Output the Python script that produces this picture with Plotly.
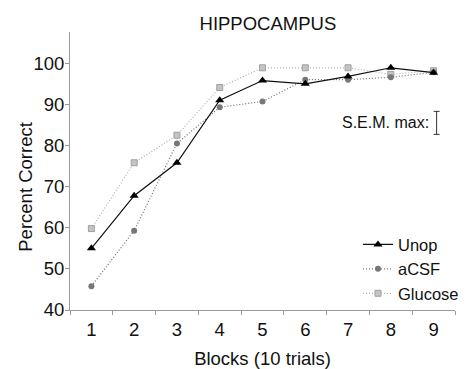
import plotly.graph_objects as go

blocks = [1, 2, 3, 4, 5, 6, 7, 8, 9]
unop = [55, 67.8, 75.8, 91, 95.8, 95, 96.8, 98.9, 97.7]
acsf = [45.8, 59.3, 80.5, 89.3, 90.7, 96, 96, 96.6, 97.8]
glucose = [59.8, 75.8, 82.5, 94.1, 98.9, 98.9, 98.9, 97.3, 98.2]
y_ticks = [40, 50, 60, 70, 80, 90, 100]
sem_max = 5.6
sem_pos = (9.07, 85.5)

FONT = "Liberation Sans, Arial, sans-serif"
FS = 18.5
# page body has an 8px default margin; compensate so plot sits where the reference has it
W, H = 460, 361

fig = go.Figure()
fig.add_trace(go.Scatter(
    x=blocks, y=glucose, name="Glucose", mode="lines+markers",
    line=dict(color="#b0b0b0", width=1.2, dash="1px,2px"),
    marker=dict(symbol="square", size=6, color="#c4c4c4",
                line=dict(color="#a0a0a0", width=1))))
fig.add_trace(go.Scatter(
    x=blocks, y=acsf, name="aCSF", mode="lines+markers",
    line=dict(color="#707070", width=1.2, dash="1px,2px"),
    marker=dict(symbol="circle", size=6, color="#777777")))
fig.add_trace(go.Scatter(
    x=blocks, y=unop, name="Unop", mode="lines+markers",
    line=dict(color="#111111", width=1.2),
    marker=dict(symbol="triangle-up", size=8, color="#000000")))

# S.E.M. max indicator
fig.add_trace(go.Scatter(
    x=[sem_pos[0]], y=[sem_pos[1]], mode="markers", showlegend=False,
    marker=dict(size=0.1, color="rgba(0,0,0,0)"),
    error_y=dict(type="constant", value=sem_max / 2, color="#333333",
                 thickness=1, width=3), hoverinfo="skip"))
fig.add_annotation(x=sem_pos[0] - 0.12, y=sem_pos[1], xref="x", yref="y",
                   text="S.E.M. max:", showarrow=False, xanchor="right",
                   font=dict(size=16, color="#111111", family=FONT))

fig.add_annotation(x=-0.114, y=70, xref="paper", yref="y",
                   xanchor="center", yanchor="middle",
                   text="Percent Correct", textangle=-90, showarrow=False,
                   font=dict(size=FS, color="#111111", family=FONT))

fig.update_layout(
    width=W, height=H,
    margin=dict(l=62, r=13, t=24, b=59, autoexpand=False),
    paper_bgcolor="white", plot_bgcolor="white",
    font=dict(family=FONT, size=FS, color="#111111"),
    title=dict(text="HIPPOCAMPUS", xref="paper", x=0.514, xanchor="center",
               yref="container", y=1 - 16 / H, yanchor="middle",
               font=dict(size=FS)),
    legend=dict(x=0.748, xanchor="left", y=0.298, yanchor="top",
                traceorder="reversed", bgcolor="rgba(0,0,0,0)",
                font=dict(size=16.5), itemwidth=30, tracegroupgap=0),
    showlegend=True,
)
fig.update_xaxes(
    range=[0.5, 9.5], tickvals=blocks, ticks="", showgrid=False,
    showline=True, linecolor="#9a9a9a", linewidth=1, zeroline=False,
    automargin=False, tickfont=dict(size=FS),
    minor=dict(tick0=0.5, dtick=1, ticks="outside", ticklen=4,
               tickcolor="#9a9a9a", showgrid=False),
    title=dict(text="Blocks (10 trials)", standoff=14, font=dict(size=FS)),
    ticklabelstandoff=3,
)
fig.update_yaxes(
    range=[40, 107.6], tickvals=y_ticks, ticks="outside", ticklen=4,
    tickcolor="#9a9a9a", showgrid=False, showline=True, automargin=False,
    linecolor="#9a9a9a", linewidth=1, zeroline=False, tickfont=dict(size=FS),
    ticklabelstandoff=-3,
)

fig.write_html("out.html")
